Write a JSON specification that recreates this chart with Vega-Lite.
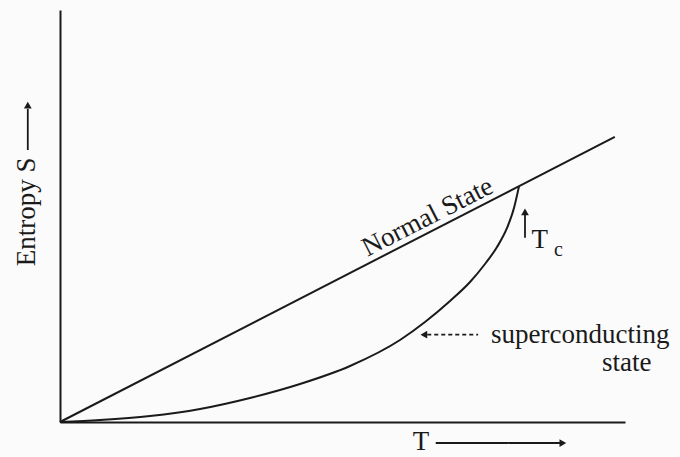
{
  "$schema": "https://vega.github.io/schema/vega-lite/v6.json",
  "width": 565,
  "height": 412,
  "autosize": {"type": "none"},
  "padding": {"left": 60, "top": 10, "right": 55, "bottom": 35},
  "background": "#fbfbfb",
  "config": {
    "view": {"stroke": null},
    "axis": {"domain": true, "domainColor": "#1a1a1a", "domainWidth": 2, "ticks": false, "labels": false, "grid": false, "title": null},
    "text": {"font": "Liberation Serif", "fontSize": 27, "color": "#1a1a1a"}
  },
  "datasets": {
    "normal": [{"T": 0, "S": 0}, {"T": 98.2, "S": 69.2}],
    "sc": [
      {"T": 0, "S": 0}, {"T": 7.08, "S": 0.49}, {"T": 15.93, "S": 1.46}, {"T": 24.78, "S": 3.16},
      {"T": 33.63, "S": 5.83}, {"T": 42.48, "S": 9.22}, {"T": 51.33, "S": 13.59}, {"T": 60.18, "S": 19.9},
      {"T": 64.6, "S": 24.27}, {"T": 69.03, "S": 29.37}, {"T": 72.57, "S": 33.98}, {"T": 75.22, "S": 38.35},
      {"T": 77.35, "S": 42.48}, {"T": 79.12, "S": 47.09}, {"T": 80.35, "S": 51.94}, {"T": 81.24, "S": 57.2}
    ],
    "arrows": [
      {"x": -5.7, "y": 66.0, "x2": -5.7, "y2": 76.0, "kind": "solid"},
      {"x": 66.5, "y": -5.1, "x2": 88.5, "y2": -5.1, "kind": "solid"},
      {"x": 82.3, "y": 44.7, "x2": 82.3, "y2": 50.5, "kind": "solid"},
      {"x": 65.0, "y": 21.2, "x2": 74.0, "y2": 21.2, "kind": "dashed"}
    ],
    "heads": [
      {"x": -5.7, "y": 76.9, "dir": "up"},
      {"x": 89.0, "y": -5.1, "dir": "right"},
      {"x": 82.3, "y": 51.0, "dir": "up"},
      {"x": 64.4, "y": 21.2, "dir": "left"}
    ],
    "labels": [
      {"label": "Entropy S", "x": -5.84, "y": 51.0, "role": "vertical"},
      {"label": "T", "x": 63.9, "y": -6.8, "role": "center"},
      {"label": "Normal State", "x": 65.7, "y": 48.0, "role": "slanted"},
      {"label": "T", "x": 84.9, "y": 42.2, "role": "center"},
      {"label": "c", "x": 88.2, "y": 40.3, "role": "sub"},
      {"label": "superconducting", "x": 76.3, "y": 19.2, "role": "left"},
      {"label": "state", "x": 100.3, "y": 12.38, "role": "center"}
    ]
  },
  "layer": [
    {
      "data": {"name": "normal"},
      "mark": {"type": "line", "color": "#1a1a1a", "strokeWidth": 2},
      "encoding": {
        "x": {"field": "T", "type": "quantitative", "scale": {"domain": [0, 100], "nice": false}, "axis": {}},
        "y": {"field": "S", "type": "quantitative", "scale": {"domain": [0, 100], "nice": false}, "axis": {}}
      }
    },
    {
      "data": {"name": "sc"},
      "mark": {"type": "line", "color": "#1a1a1a", "strokeWidth": 2, "interpolate": "monotone"},
      "encoding": {
        "x": {"field": "T", "type": "quantitative"},
        "y": {"field": "S", "type": "quantitative"}
      }
    },
    {
      "data": {"name": "arrows"},
      "mark": {"type": "rule", "color": "#1a1a1a", "strokeWidth": 1.8},
      "encoding": {
        "x": {"field": "x", "type": "quantitative"},
        "y": {"field": "y", "type": "quantitative"},
        "x2": {"field": "x2"},
        "y2": {"field": "y2"},
        "strokeDash": {"field": "kind", "type": "nominal", "scale": {"domain": ["solid", "dashed"], "range": [[1, 0], [4, 3]]}, "legend": null}
      }
    },
    {
      "data": {"name": "heads"},
      "mark": {"type": "point", "filled": true, "color": "#1a1a1a", "size": 60, "opacity": 1},
      "encoding": {
        "x": {"field": "x", "type": "quantitative"},
        "y": {"field": "y", "type": "quantitative"},
        "shape": {"field": "dir", "type": "nominal", "scale": {"domain": ["up", "left", "right"], "range": ["triangle-up", "triangle-left", "triangle-right"]}, "legend": null}
      }
    },
    {
      "data": {"name": "labels"},
      "transform": [{"filter": "datum.role === 'center'"}],
      "mark": {"type": "text", "align": "center", "baseline": "alphabetic"},
      "encoding": {
        "x": {"field": "x", "type": "quantitative"},
        "y": {"field": "y", "type": "quantitative"},
        "text": {"field": "label"}
      }
    },
    {
      "data": {"name": "labels"},
      "transform": [{"filter": "datum.role === 'left'"}],
      "mark": {"type": "text", "align": "left", "baseline": "alphabetic"},
      "encoding": {
        "x": {"field": "x", "type": "quantitative"},
        "y": {"field": "y", "type": "quantitative"},
        "text": {"field": "label"}
      }
    },
    {
      "data": {"name": "labels"},
      "transform": [{"filter": "datum.role === 'sub'"}],
      "mark": {"type": "text", "align": "center", "baseline": "alphabetic", "fontSize": 20},
      "encoding": {
        "x": {"field": "x", "type": "quantitative"},
        "y": {"field": "y", "type": "quantitative"},
        "text": {"field": "label"}
      }
    },
    {
      "data": {"name": "labels"},
      "transform": [{"filter": "datum.role === 'vertical'"}],
      "mark": {"type": "text", "align": "center", "baseline": "middle", "angle": 270},
      "encoding": {
        "x": {"field": "x", "type": "quantitative"},
        "y": {"field": "y", "type": "quantitative"},
        "text": {"field": "label"}
      }
    },
    {
      "data": {"name": "labels"},
      "transform": [{"filter": "datum.role === 'slanted'"}],
      "mark": {"type": "text", "align": "center", "baseline": "alphabetic", "angle": 333},
      "encoding": {
        "x": {"field": "x", "type": "quantitative"},
        "y": {"field": "y", "type": "quantitative"},
        "text": {"field": "label"}
      }
    }
  ]
}
